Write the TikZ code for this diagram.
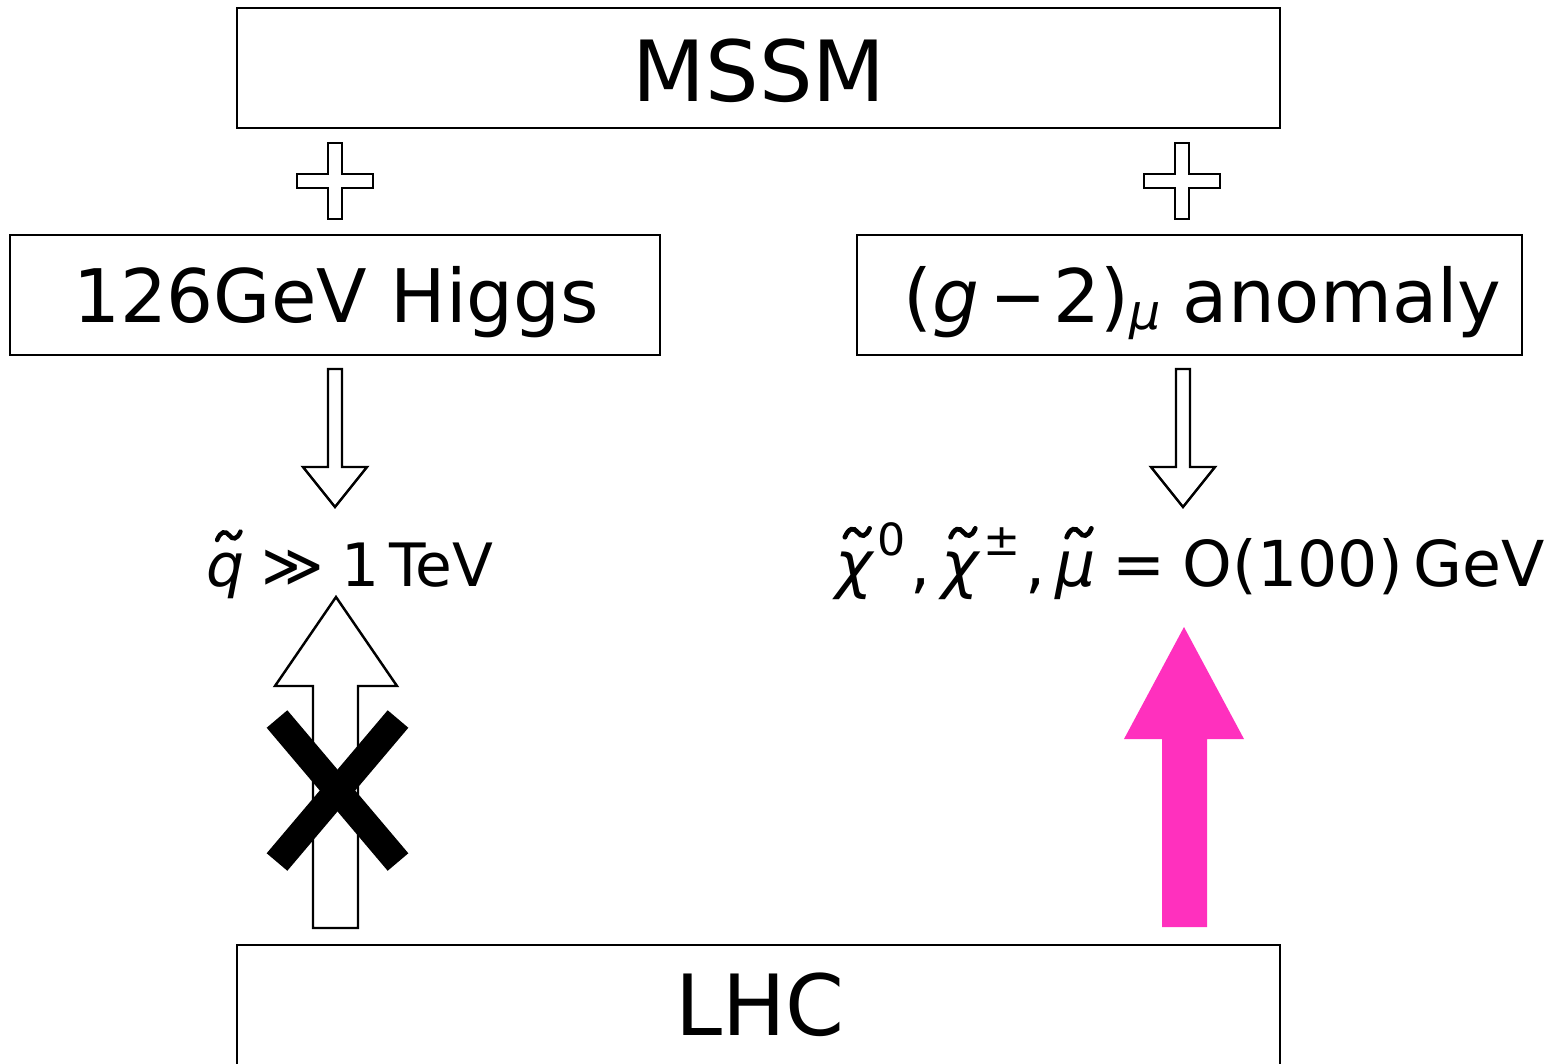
\documentclass[tikz,border=0pt]{standalone}
\usepackage{graphicx}
\usepackage{fontspec}
\usepackage{amsmath}
\setmainfont{DejaVu Sans}
\definecolor{lhcpink}{RGB}{255,48,190}
% wavy tilde accent, sized in em of the current font
\newcommand\wavetilde{\smash{\tikz[baseline=0pt, x=1em, y=1em]
  \draw[line width=0.075em, line cap=round]
    (0,0.77) .. controls (0.06,0.92) and (0.14,0.93) .. (0.2,0.85)
    .. controls (0.26,0.77) and (0.33,0.77) .. (0.39,0.91);}}
% sans-serif italic symbol carrying the tilde
\newcommand\tildeglyph[1]{\text{\ooalign{\itshape #1\cr
  \hidewidth\kern0.1em\wavetilde\hidewidth\cr}}}
\newcommand\comma{\mkern1mu\mathpunct{\text{,}}}
\newcommand\supsize[1]{^{\mkern2mu\raisebox{0.14em}{\fontsize{12.6}{13}\selectfont #1}}}

\tikzset{
  box/.style={draw, line width=0.7pt, inner sep=0pt},
  outline/.style={draw, line width=0.7pt, fill=white, line join=miter},
  bigtext/.style={anchor=base, font=\fontsize{24}{28}\selectfont, inner sep=0pt},
  midtext/.style={anchor=base, font=\fontsize{21}{25}\selectfont, inner sep=0pt},
  mathtext/.style={anchor=base, font=\fontsize{17}{20}\selectfont, inner sep=0pt},
  crossbar/.style={line width=7.7pt, line cap=butt},
  % plus sign, drawn as an outlined cross
  plussign/.pic={
    \path[outline] (-7,-38) -- (7,-38) -- (7,-7) -- (38,-7) -- (38,7) -- (7,7)
      -- (7,38) -- (-7,38) -- (-7,7) -- (-38,7) -- (-38,-7) -- (-7,-7) -- cycle;
  },
  % hollow block arrow pointing down, origin at top of shaft
  downarrow/.pic={
    \path[outline] (-7,0) -- (7,0) -- (7,98) -- (32,98) -- (0,138) -- (-32,98)
      -- (-7,98) -- cycle;
  },
}

\begin{document}
\begin{tikzpicture}[x=0.01cm, y=-0.01cm]
\useasboundingbox (0,0) rectangle (1554,1063);

% boxes
\path[box] (237,8) rectangle (1280,128);
\path[box] (10,235) rectangle (660,355);
\path[box] (857,235) rectangle (1522,355);
\path[box] (237,945) rectangle (1280,1100);

% box labels
\node[bigtext] (mssm) at (759,101) {MSSM};
\node[midtext] (higgs) at (336,322) {126GeV Higgs};
\node[midtext, anchor=base west] (gtwo) at (903,322)
  {(\textit{g}\kern0.15em\scalebox{0.9}[1]{−}\kern0.1em2)\kern0em\raisebox{-0.1em}{\fontsize{14}{14}\selectfont\itshape μ}\kern0.3em anomaly};
\node[bigtext] (lhc) at (760,1035) {LHC};

% consequences
\node[mathtext] (sq) at (350,586)
  {$\tildeglyph{q} \mathrel{\text{≫}} \text{1\,TeV}$};
\node[mathtext, font=\fontsize{18}{21}\selectfont] (ew) at (1190,586)
  {$\tildeglyph{χ}\supsize{0}\comma\tildeglyph{χ}\supsize{±}\comma\tildeglyph{μ}
    \mathrel{\text{=}} \text{O(100)\,GeV}$};

% plus signs between MSSM and the two inputs
\pic at (335,181) {plussign};
\pic at (1182,181) {plussign};

% implications
\pic at (335,369) {downarrow};
\pic at (1183,369) {downarrow};

% LHC probe of squarks: excluded
\path[outline] (313,928) -- (358,928) -- (358,686) -- (397,686) -- (336,597)
  -- (275,686) -- (313,686) -- cycle;
\draw[crossbar] (277,719) -- (398,862);
\draw[crossbar] (277,862) -- (398,719);

% LHC probe of light electroweak states
\fill[lhcpink] (1162,927) -- (1207,927) -- (1207,739) -- (1244,739) -- (1184,627)
  -- (1124,739) -- (1162,739) -- cycle;
\end{tikzpicture}
\end{document}
